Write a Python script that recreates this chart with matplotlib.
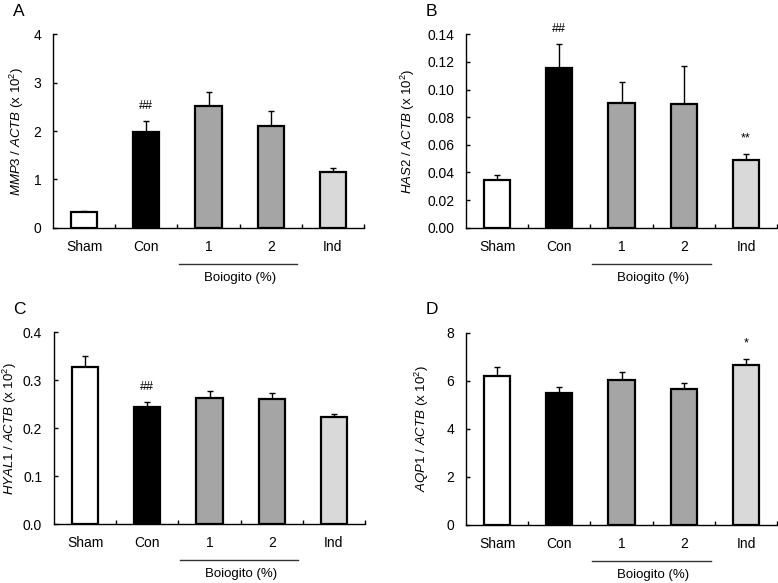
import numpy as np
import matplotlib
matplotlib.use("Agg")
from matplotlib import pyplot as plt

plt.rcParams['font.family'] = ['Liberation Sans', 'DejaVu Sans']
plt.rcParams['mathtext.fontset'] = 'custom'
plt.rcParams['mathtext.rm'] = 'Liberation Sans'
plt.rcParams['mathtext.it'] = 'Liberation Sans:italic'

GROUPS = ["Sham", "Con", "1", "2", "Ind"]
BAR_COLORS = ["#ffffff", "#000000", "#a5a5a5", "#a5a5a5", "#d9d9d9"]

MMP3_MEAN = [0.32, 1.98, 2.51, 2.10, 1.16]
MMP3_ERR = [0.03, 0.23, 0.29, 0.31, 0.07]

HAS2_MEAN = [0.0345, 0.1159, 0.0905, 0.0892, 0.0488]
HAS2_ERR = [0.0040, 0.0170, 0.0153, 0.0280, 0.0048]

HYAL1_MEAN = [0.327, 0.244, 0.264, 0.262, 0.223]
HYAL1_ERR = [0.024, 0.011, 0.013, 0.012, 0.007]

AQP1_MEAN = [6.20, 5.48, 6.04, 5.67, 6.65]
AQP1_ERR = [0.36, 0.24, 0.34, 0.23, 0.25]

PANELS = [
    ("A", "MMP3\\ /\\ ACTB", MMP3_MEAN, MMP3_ERR, [0, 1, 2, 3, 4], "{:.0f}", {1: "##"}),
    ("B", "HAS2\\ /\\ ACTB", HAS2_MEAN, HAS2_ERR,
     [0, 0.02, 0.04, 0.06, 0.08, 0.10, 0.12, 0.14], "{:.2f}", {1: "##", 4: "**"}),
    ("C", "HYAL1\\ /\\ ACTB", HYAL1_MEAN, HYAL1_ERR, [0, 0.1, 0.2, 0.3, 0.4], "{:.1f}", {1: "##"}),
    ("D", "AQP1\\ /\\ ACTB", AQP1_MEAN, AQP1_ERR, [0, 2, 4, 6, 8], "{:.0f}", {4: "*"}),
]

AX_POS = [
    [0.0681, 0.6094, 0.3998, 0.3318],
    [0.5990, 0.6094, 0.3998, 0.3318],
    [0.0694, 0.1007, 0.3998, 0.3293],
    [0.5990, 0.0995, 0.3998, 0.3300],
]
LABEL_X = [-0.088, -0.156, -0.111, -0.111]

fig = plt.figure(figsize=(7.78, 5.83), dpi=100)

for pos, lx, (letter, gene, means, errs, yticks, fmt, marks) in zip(AX_POS, LABEL_X, PANELS):
    ax = fig.add_axes(pos)
    x = np.arange(len(GROUPS)) + 0.5
    ax.bar(x, means, width=0.42, color=BAR_COLORS, edgecolor="black", linewidth=1.6, zorder=2)
    ax.errorbar(x, means, yerr=[np.zeros(len(errs)), errs], fmt="none", ecolor="black",
                elinewidth=1.0, capsize=2.5, capthick=1.0, zorder=1)

    ax.set_xlim(0, len(GROUPS))
    ax.set_ylim(yticks[0], yticks[-1])
    ax.set_yticks(yticks)
    ax.set_yticklabels([fmt.format(t) for t in yticks])
    ax.set_xticks(x)
    ax.set_xticklabels(GROUPS)
    ax.set_xticks(np.arange(1, len(GROUPS) + 1), minor=True)
    ax.tick_params(axis="x", which="major", length=0, pad=8.5, labelsize=10)
    ax.tick_params(axis="x", which="minor", direction="in", length=3, width=1)
    ax.tick_params(axis="y", direction="in", length=3, width=1, pad=8.5, labelsize=10)
    for side in ["top", "right"]:
        ax.spines[side].set_visible(False)
    for side in ["left", "bottom"]:
        ax.spines[side].set_linewidth(1.0)

    ax.set_ylabel("$\\mathit{" + gene + "}$ (x 10$^{2}$)", fontsize=9.5)
    ax.yaxis.set_label_coords(lx, 0.5)

    ax.plot([2.03, 3.93], [-0.186, -0.186], color="#333333", linewidth=1.0,
            transform=ax.get_xaxis_transform(), clip_on=False)
    ax.text(3.0, -0.259, "Boiogito (%)", transform=ax.get_xaxis_transform(),
            ha="center", va="center", fontsize=9.5)

    for idx, label in marks.items():
        ax.annotate(label, (x[idx], means[idx] + errs[idx]), xytext=(0, 11),
                    textcoords="offset points", ha="center", va="center", fontsize=9)

    ax.text(-0.111, 1.12, letter, transform=ax.transAxes, fontsize=12.5,
            ha="center", va="center")

fig.savefig("out.png", dpi=100)
